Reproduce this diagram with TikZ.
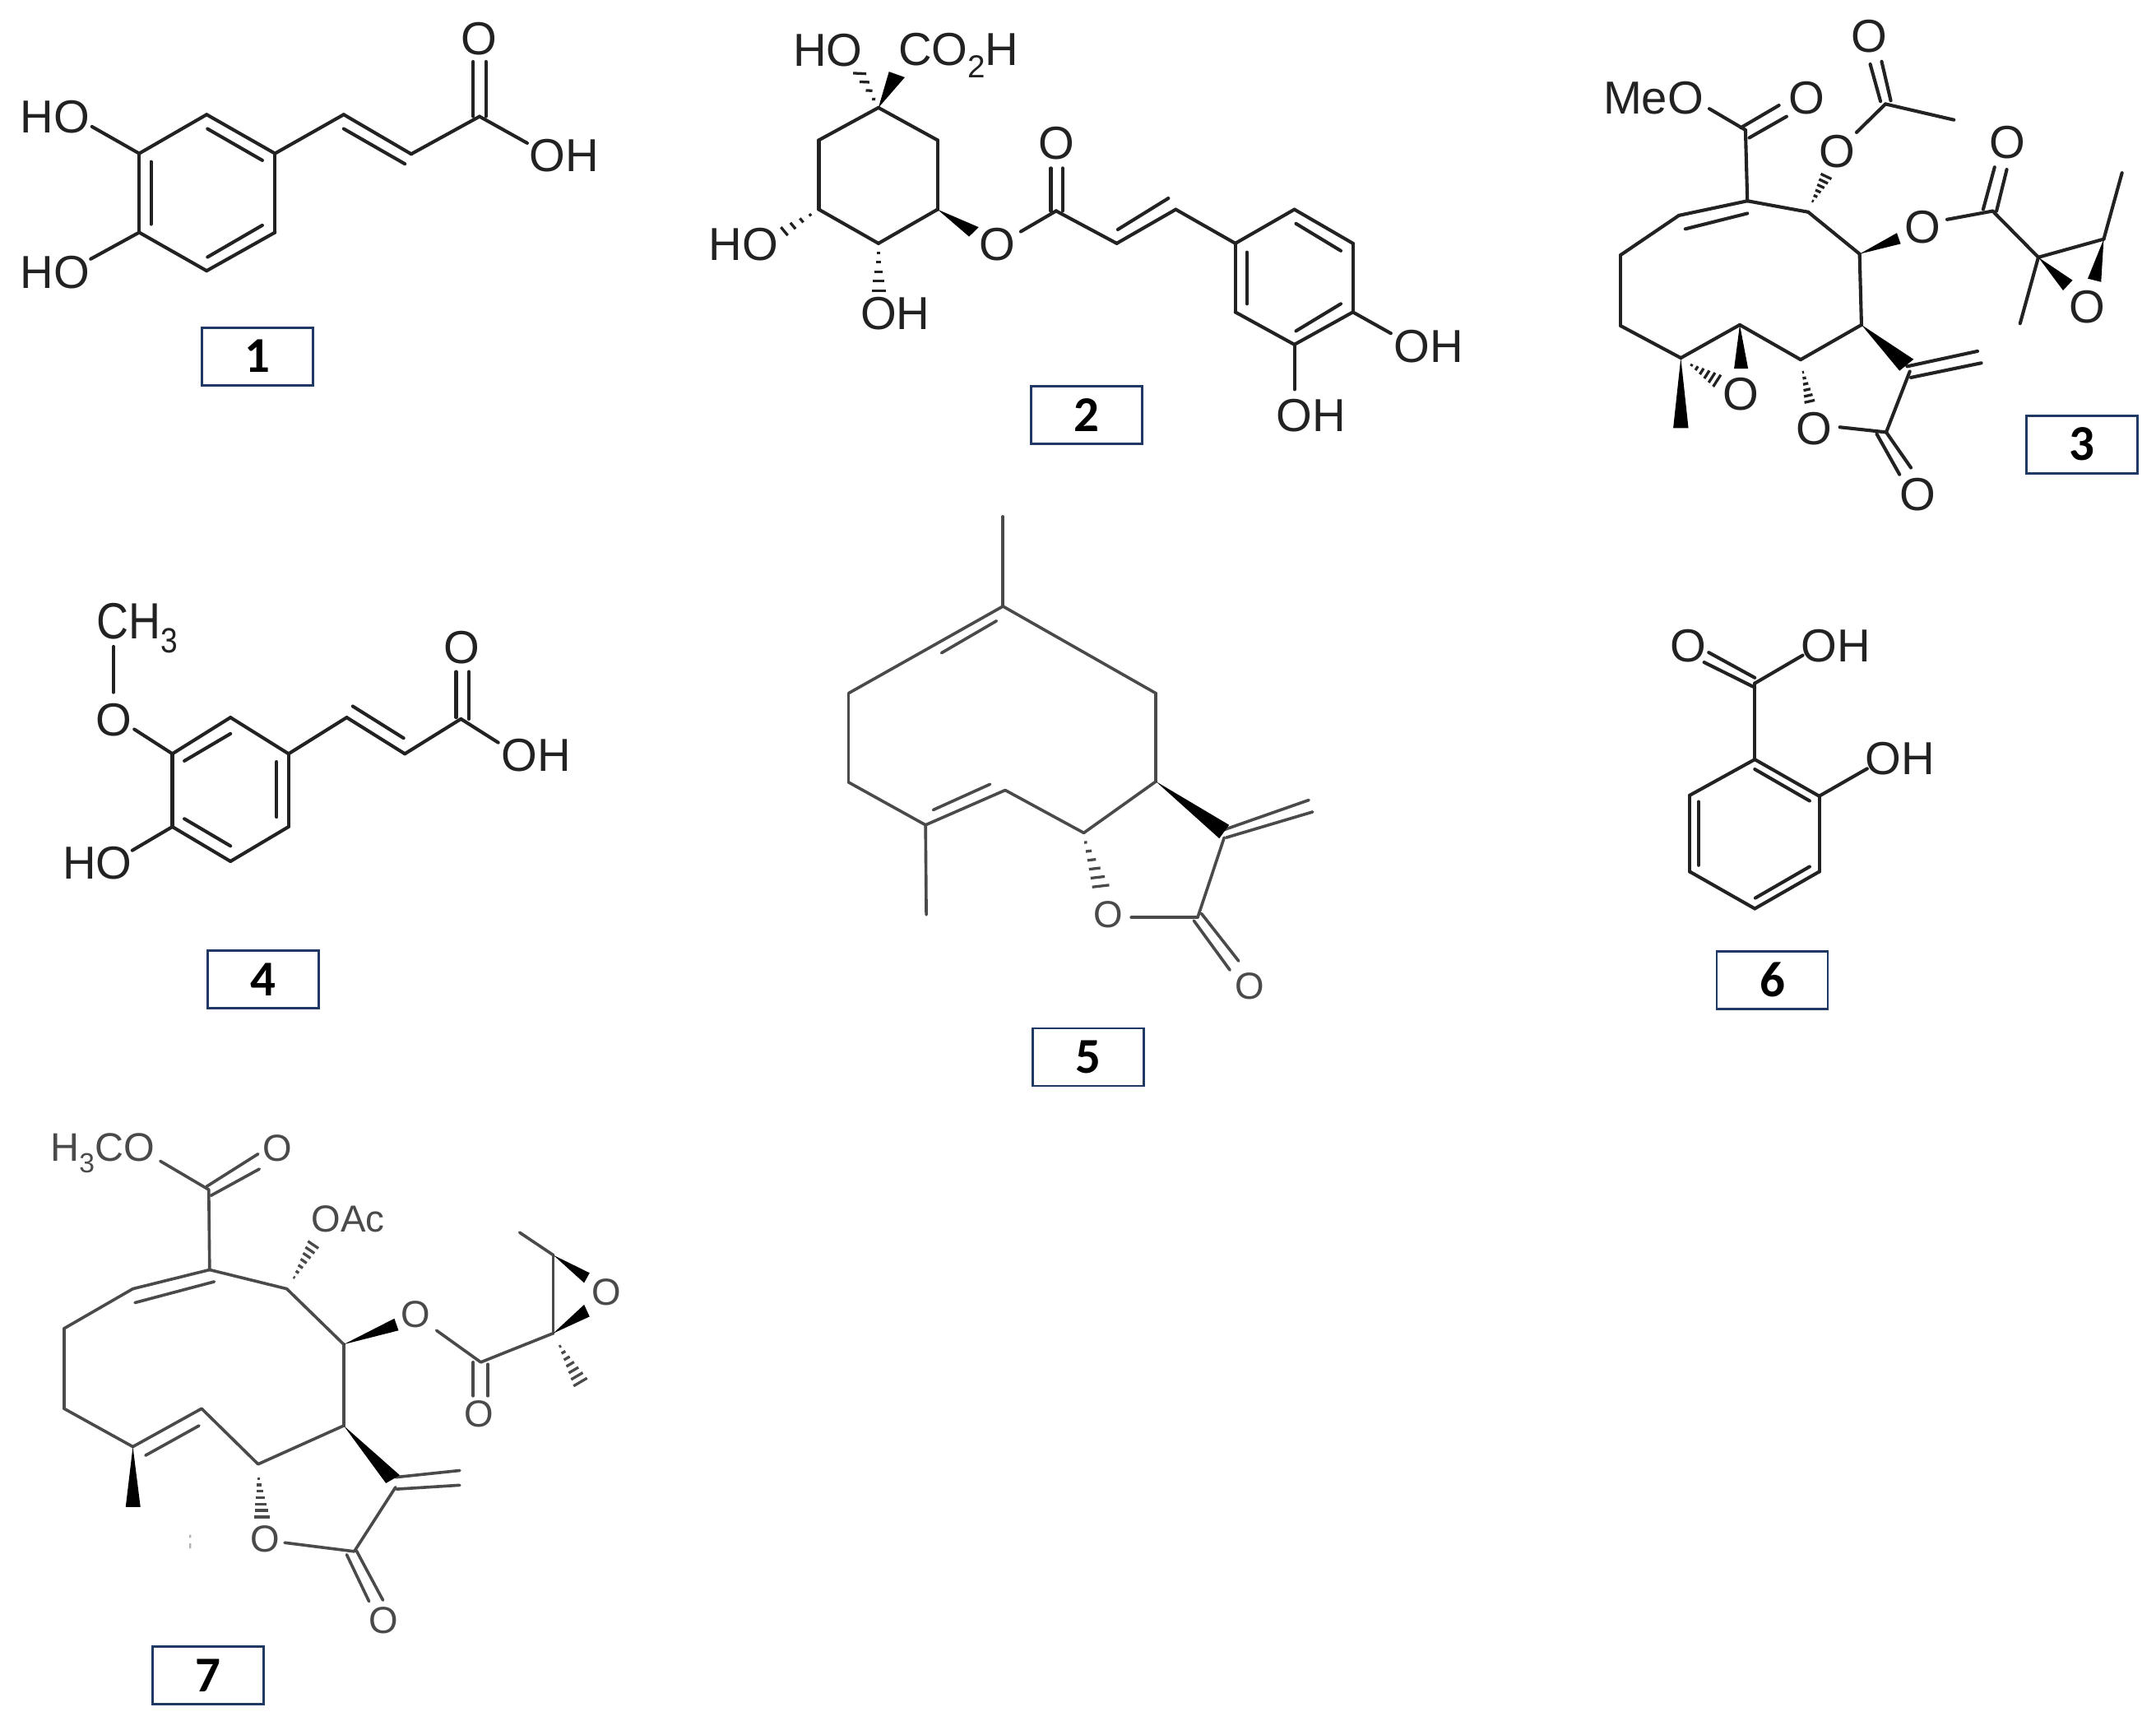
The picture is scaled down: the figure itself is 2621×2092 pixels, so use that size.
\documentclass[tikz,border=0pt]{standalone}
\usepackage{fontspec}
\setmainfont{Liberation Sans}
\newfontfamily\boxfont{Carlito}
\usetikzlibrary{calc}
\definecolor{navybox}{HTML}{1F3864}
\definecolor{inkdark}{HTML}{222222}
\definecolor{inksoft}{HTML}{4A4A4A}
\newcommand\atoms[1]{\foreach \n/\x/\y in {#1}{\coordinate (\n) at (\x,\y);}}
\newcommand\bonds[1]{\foreach \p/\q in {#1}{\draw[bond] (\p)--(\q);}}
\newcommand\wedges[1]{\foreach \p/\q/\r in {#1}{\fill[wedgefill] (\p)--(\q)--(\r)--cycle;}}
\newcommand\hashes[1]{\foreach \p/\q/\r/\k in {#1}{\foreach \i in {1,...,\k}{\pgfmathsetmacro\tt{\i/\k}\draw[hashline] ($(\p)!\tt!(\q)$)--($(\p)!\tt!(\r)$);}}}
\newcommand\lowsub[2][33pt]{\raisebox{-0.28em}{\fontsize{#1}{#1}\selectfont #2}}
\tikzset{
  bond/.style={draw=inkdark,line width=3.5pt,line cap=round,line join=round},
  wedgefill/.style={fill=black},
  hashline/.style={draw=inkdark,line width=2.8pt},
  atom/.style={inner sep=0pt,text=inkdark,font=\fontsize{48pt}{48pt}\selectfont},
  numbox/.style={draw=navybox,line width=2.4pt,fill=white,inner sep=0pt,minimum width=4.05cm,minimum height=2.1cm,xshift=-0.05cm,text=black,font=\boxfont\bfseries\fontsize{52pt}{52pt}\selectfont},
  soft/.style={bond/.append style={draw=inksoft,line width=3.1pt},hashline/.append style={draw=inksoft},atom/.append style={text=inksoft,font=\fontsize{39pt}{39pt}\selectfont}},
}
\begin{document}
\begin{tikzpicture}[x=0.03cm,y=-0.03cm]
\useasboundingbox[fill=white] (0,0) rectangle (2621,2092);

% ---------- 1 ----------
\begin{scope}[shift={(0,0)},x=0.015385cm,y=-0.01cm]
\atoms{1a/330/560,1b/490/418,1c/652/560,1d/652/848,1e/490/988,1f/330/848,
 1g/815/418,1h/975/562,1i/1137/425,
 1p/492/470,1q/622/585,1r/358/590,1s/358/818,1t/622/822,1u/492/938,1v/815/470,1w/960/598,
 1x/1122/225,1y/1122/425,1z/1152/225,1A/1152/425,1B/1250/522,1C/218/462,1D/215/945}
\bonds{1a/1b,1b/1c,1c/1d,1d/1e,1e/1f,1f/1a,1c/1g,1g/1h,1h/1i,1p/1q,1r/1s,1t/1u,1v/1w,1x/1y,1z/1A,1i/1B,1a/1C,1f/1D}
\node[atom] (1O) at (1135,142) {O};
\node[atom] (1OH) at (1338,568) {OH};
\node[atom] (1HOa) at (130,428) {HO};
\node[atom] (1HOb) at (130,995) {HO};
\node[numbox] (1L) at (614,1300) {1};
\end{scope}

% ---------- 2 ----------
\begin{scope}[shift={(800,0)},x=0.019231cm,y=-0.010753cm]
\atoms{2a/418/365,2b/530/475,2c/530/710,2d/418/825,2e/305/710,2f/305/475,
 2j/755/715,2k/870/825,2l/982/710,2m/1095/825,2n/1207/710,2o/1318/825,2p/1318/1058,2q/1207/1168,2r/1095/1058,
 2s/688/785,2t/745/570,2u/745/715,2v/767/570,2w/767/715,2x/872/778,2y/968/672,
 2z/1210/758,2A/1295/850,2B/1117/855,2C/1117/1030,2D/1295/1030,2E/1210/1122,2F/1390/1130,2G/1207/1320,
 2w1/438/243,2w2/468/262,2w3/608/770,2w4/590/802,
 2h2/370/248,2h3/395/250,2h5/233/770,2h6/246/798,2h8/405/985,2h9/432/985}
\bonds{2a/2b,2b/2c,2c/2d,2d/2e,2e/2f,2f/2a,2s/2j,2j/2k,2k/2l,2l/2m,2m/2n,2n/2o,2o/2p,2p/2q,2q/2r,2r/2m,2t/2u,2v/2w,2x/2y,2z/2A,2B/2C,2D/2E,2p/2F,2q/2G}
\wedges{2a/2w1/2w2,2c/2w3/2w4}
\hashes{2a/2h2/2h3/4,2e/2h5/2h6/4,2d/2h8/2h9/5}
\node[atom] (2HOa) at (322,170) {HO};
\node[atom] (2CO) at (570,188) {CO\lowsub{2}H};
\node[atom] (2HOb) at (162,830) {HO};
\node[atom] (2O) at (643,830) {O};
\node[atom] (2Oc) at (756,485) {O};
\node[atom] (2OHa) at (450,1062) {OH};
\node[atom] (2OHb) at (1462,1175) {OH};
\node[atom] (2OHc) at (1238,1408) {OH};
\node[numbox] (2L) at (815,1407) {2};
\end{scope}

% ---------- 3 ----------
\begin{scope}[shift={(1900,0)},x=0.013863cm,y=-0.012308cm]
\atoms{3a/480/385,3b/485/595,3c/645/628,3d/780/752,3e/785/962,3f/625/1065,3g/465/962,3h/310/1060,3i/152/965,3j/152/755,3k/305/638,
 3l/848/308,3m/1130/625,3n/1250/762,3p/1422/708,3q/912/1100,3r/850/1280,
 3s/385/322,3t/468/378,3u/568/312,3v/490/408,3w/588/345,3x/322/678,3y/485/632,
 3z/772/392,3A/808/190,3B/835/300,3C/838/182,3D/862/298,3E/1028/355,
 3F/1010/650,3G/1105/620,3H/1135/495,3I/1140/625,3J/1167/502,3K/1470/512,3M/1202/958,
 3N/905/1085,3Q/1090/1040,3R/915/1118,3S/1100/1075,3T/728/1265,3U/825/1285,3V/885/1405,3W/850/1280,3X/915/1385,
 3wa/878/690,3wb/888/722,3wc/1340/830,3wd/1315/860,3we/1380/825,3wf/1415/835,3wg/885/1098,3wh/922/1064,3wi/450/1092,3wj/487/1092,3wk/290/1268,3wl/330/1268,
 3ha/650/610,3hb/678/515,3hc/706/530,3hd/628/1085,3he/635/1192,3hf/662/1185,3hg/325/1072,3hh/395/1145,3hi/415/1110}
\bonds{3a/3b,3b/3c,3c/3d,3d/3e,3e/3f,3f/3g,3g/3h,3h/3i,3i/3j,3j/3k,3k/3b,3s/3a,3t/3u,3v/3w,3x/3y,
 3z/3l,3A/3B,3C/3D,3l/3E,3F/3m,3G/3H,3I/3J,3m/3n,3n/3p,3p/3K,3n/3M,3N/3Q,3R/3S,3q/3r,3T/3r,3U/3V,3W/3X}
\wedges{3d/3wa/3wb,3n/3wc/3wd,3p/3we/3wf,3e/3wg/3wh,3g/3wi/3wj,3h/3wk/3wl}
\hashes{3ha/3hb/3hc/6,3hd/3he/3hf/6,3hg/3hh/3hi/6}
\node[atom] (3MeO) at (238,290) {MeO};
\node[atom] (3Oa) at (640,290) {O};
\node[atom] (3Ob) at (722,448) {O};
\node[atom] (3Oc) at (805,108) {O};
\node[atom] (3Od) at (945,672) {O};
\node[atom] (3Oe) at (1168,422) {O};
\node[atom] (3Of) at (1378,908) {O};
\node[atom] (3Og) at (467,1168) {O};
\node[atom] (3Oh) at (660,1270) {O};
\node[atom] (3Oi) at (932,1465) {O};
\node[numbox] (3L) at (1369,1316) {3};
\end{scope}

% ---------- 4 ----------
\begin{scope}[shift={(0,680)},x=0.014615cm,y=-0.010769cm]
\atoms{4a/430/658,4b/575/535,4c/720/658,4d/720/905,4e/575/1022,4f/430/905,4g/865/535,4h/1010/658,4i/1150/540,
 4p/460/682,4q/575/590,4r/690/685,4s/690/872,4t/460/878,4u/575/970,4v/880/497,4w/1007/605,
 4x/1138/380,4y/1138/535,4z/1170/380,4A/1170/540,4B/1243/620,4C/283/295,4D/283/450,4E/335/575,4F/330/985}
\bonds{4a/4b,4b/4c,4c/4d,4d/4e,4e/4f,4f/4a,4c/4g,4g/4h,4h/4i,4p/4q,4r/4s,4t/4u,4v/4w,4x/4y,4z/4A,4i/4B,4C/4D,4E/4a,4F/4f}
\node[atom] (4CH) at (342,232) {\scalebox{0.96}[1.1]{CH\lowsub{3}}};
\node[atom] (4Oa) at (283,543) {O};
\node[atom] (4HO) at (243,1028) {HO};
\node[atom] (4Ob) at (1152,298) {O};
\node[atom] (4OH) at (1338,662) {OH};
\node[numbox] (4L) at (660,1422) {4};
\end{scope}

% ---------- 5 ----------
\begin{scope}[shift={(960,600)},x=0.013846cm,y=-0.014423cm,soft]
\atoms{5t/562/58,5a/562/285,5b/965/505,5c/965/728,5d/775/858,5e/568/750,5f/358/838,5g/155/730,5h/155/505,
 5p/400/403,5q/545/322,5r/378/800,5s/528/735,5u/360/1065,5i/1145/870,
 5v/1145/850,5w/1368/775,5x/1150/870,5y/1378/805,5j/1075/1072,5z/900/1072,
 5A/1065/1080,5B/1160/1205,5C/1085/1062,5D/1183/1182,
 5wa/1158/838,5wb/1132/872,5ha/772/860,5hb/797/995,5hc/842/990}
\bonds{5t/5a,5a/5b,5b/5c,5c/5d,5d/5e,5e/5f,5f/5g,5g/5h,5h/5a,5p/5q,5r/5s,5f/5u,5v/5w,5x/5y,5i/5j,5j/5z,5A/5B,5C/5D}
\wedges{5c/5wa/5wb}
\hashes{5ha/5hb/5hc/6}
\node[atom] (5Oa) at (840,1065) {O};
\node[atom] (5Ob) at (1212,1245) {O};
\node[numbox] (5L) at (791,1425) {5};
\end{scope}

% ---------- 6 ----------
\begin{scope}[shift={(1960,720)},x=0.01cm,y=-0.010204cm]
\atoms{6a/520/325,6b/520/597,6c/755/728,6d/755/998,6e/520/1130,6f/283/998,6g/283/725,
 6p/352/215,6q/520/305,6r/335/250,6s/520/340,6t/695/225,6u/520/632,6v/720/745,6w/720/980,6x/522/1092,6y/315/748,6z/315/975,6A/930/630}
\bonds{6p/6q,6r/6s,6a/6t,6a/6b,6b/6c,6c/6d,6d/6e,6e/6f,6f/6g,6g/6b,6u/6v,6w/6x,6y/6z,6c/6A}
\node[atom] (6O) at (278,190) {O};
\node[atom] (6OHa) at (815,192) {OH};
\node[atom] (6OHb) at (1050,595) {OH};
\node[numbox] (6L) at (589,1385) {6};
\end{scope}

% ---------- 7 ----------
\begin{scope}[shift={(0,1340)},x=0.015385cm,y=-0.014463cm,soft]
\atoms{7a/495/220,7b/497/422,7c/680/470,7d/815/610,7e/815/815,7f/612/912,7g/478/772,7h/315/868,7i/152/772,7j/152/570,7k/315/470,
 7l/1140/655,7m/1312/582,7n/1312/385,7q/938/970,7r/840/1132,
 7s/380/148,7t/490/212,7u/612/130,7v/500/235,7w/615/168,7x/320/505,7y/508/452,7z/345/890,7A/472/815,
 7B/1035/575,7C/1122/655,7D/1122/740,7E/1157/660,7F/1157/740,7G/1232/328,7H/938/945,7I/1090/928,7J/940/975,7K/1090/965,
 7M/675/1110,7N/822/1140,7P/875/1258,7Q/845/1130,7R/908/1255,
 7wa/935/545,7wb/945/575,7wc/1398/430,7wd/1385/455,7we/1385/510,7wf/1398/540,7wg/298/1020,7wh/333/1020,7wi/915/960,7wj/948/940,
 7ha/690/455,7hb/730/350,7hc/755/368,7hd/1320/600,7he/1360/715,7hf/1392/695,7hg/612/932,7hh/603/1045,7hi/640/1045}
\bonds{7s/7a,7t/7u,7v/7w,7a/7b,7b/7c,7c/7d,7d/7e,7e/7f,7f/7g,7g/7h,7h/7i,7i/7j,7j/7k,7k/7b,7x/7y,7z/7A,
 7B/7l,7C/7D,7E/7F,7l/7m,7m/7n,7n/7G,7H/7I,7J/7K,7q/7r,7M/7r,7N/7P,7Q/7R}
\wedges{7d/7wa/7wb,7n/7wc/7wd,7m/7we/7wf,7h/7wg/7wh,7e/7wi/7wj}
\hashes{7ha/7hb/7hc/7,7hd/7he/7hf/7,7hg/7hh/7hi/7}
\fill[gray!60] (449,1090) rectangle (453,1098) (449,1112) rectangle (453,1124);
\node[atom] (7H3) at (243,128) {\scalebox{1.06}{H\lowsub[27pt]{3}CO}};
\node[atom] (7Oa) at (658,115) {O};
\node[atom] (7OAc) at (825,295) {OAc};
\node[atom] (7Ob) at (985,535) {O};
\node[atom] (7Oc) at (1135,785) {O};
\node[atom] (7Od) at (1437,478) {O};
\node[atom] (7Oe) at (628,1100) {O};
\node[atom] (7Of) at (910,1305) {O};
\node[numbox] (7L) at (496,1445) {7};
\end{scope}
\end{tikzpicture}
\end{document}
